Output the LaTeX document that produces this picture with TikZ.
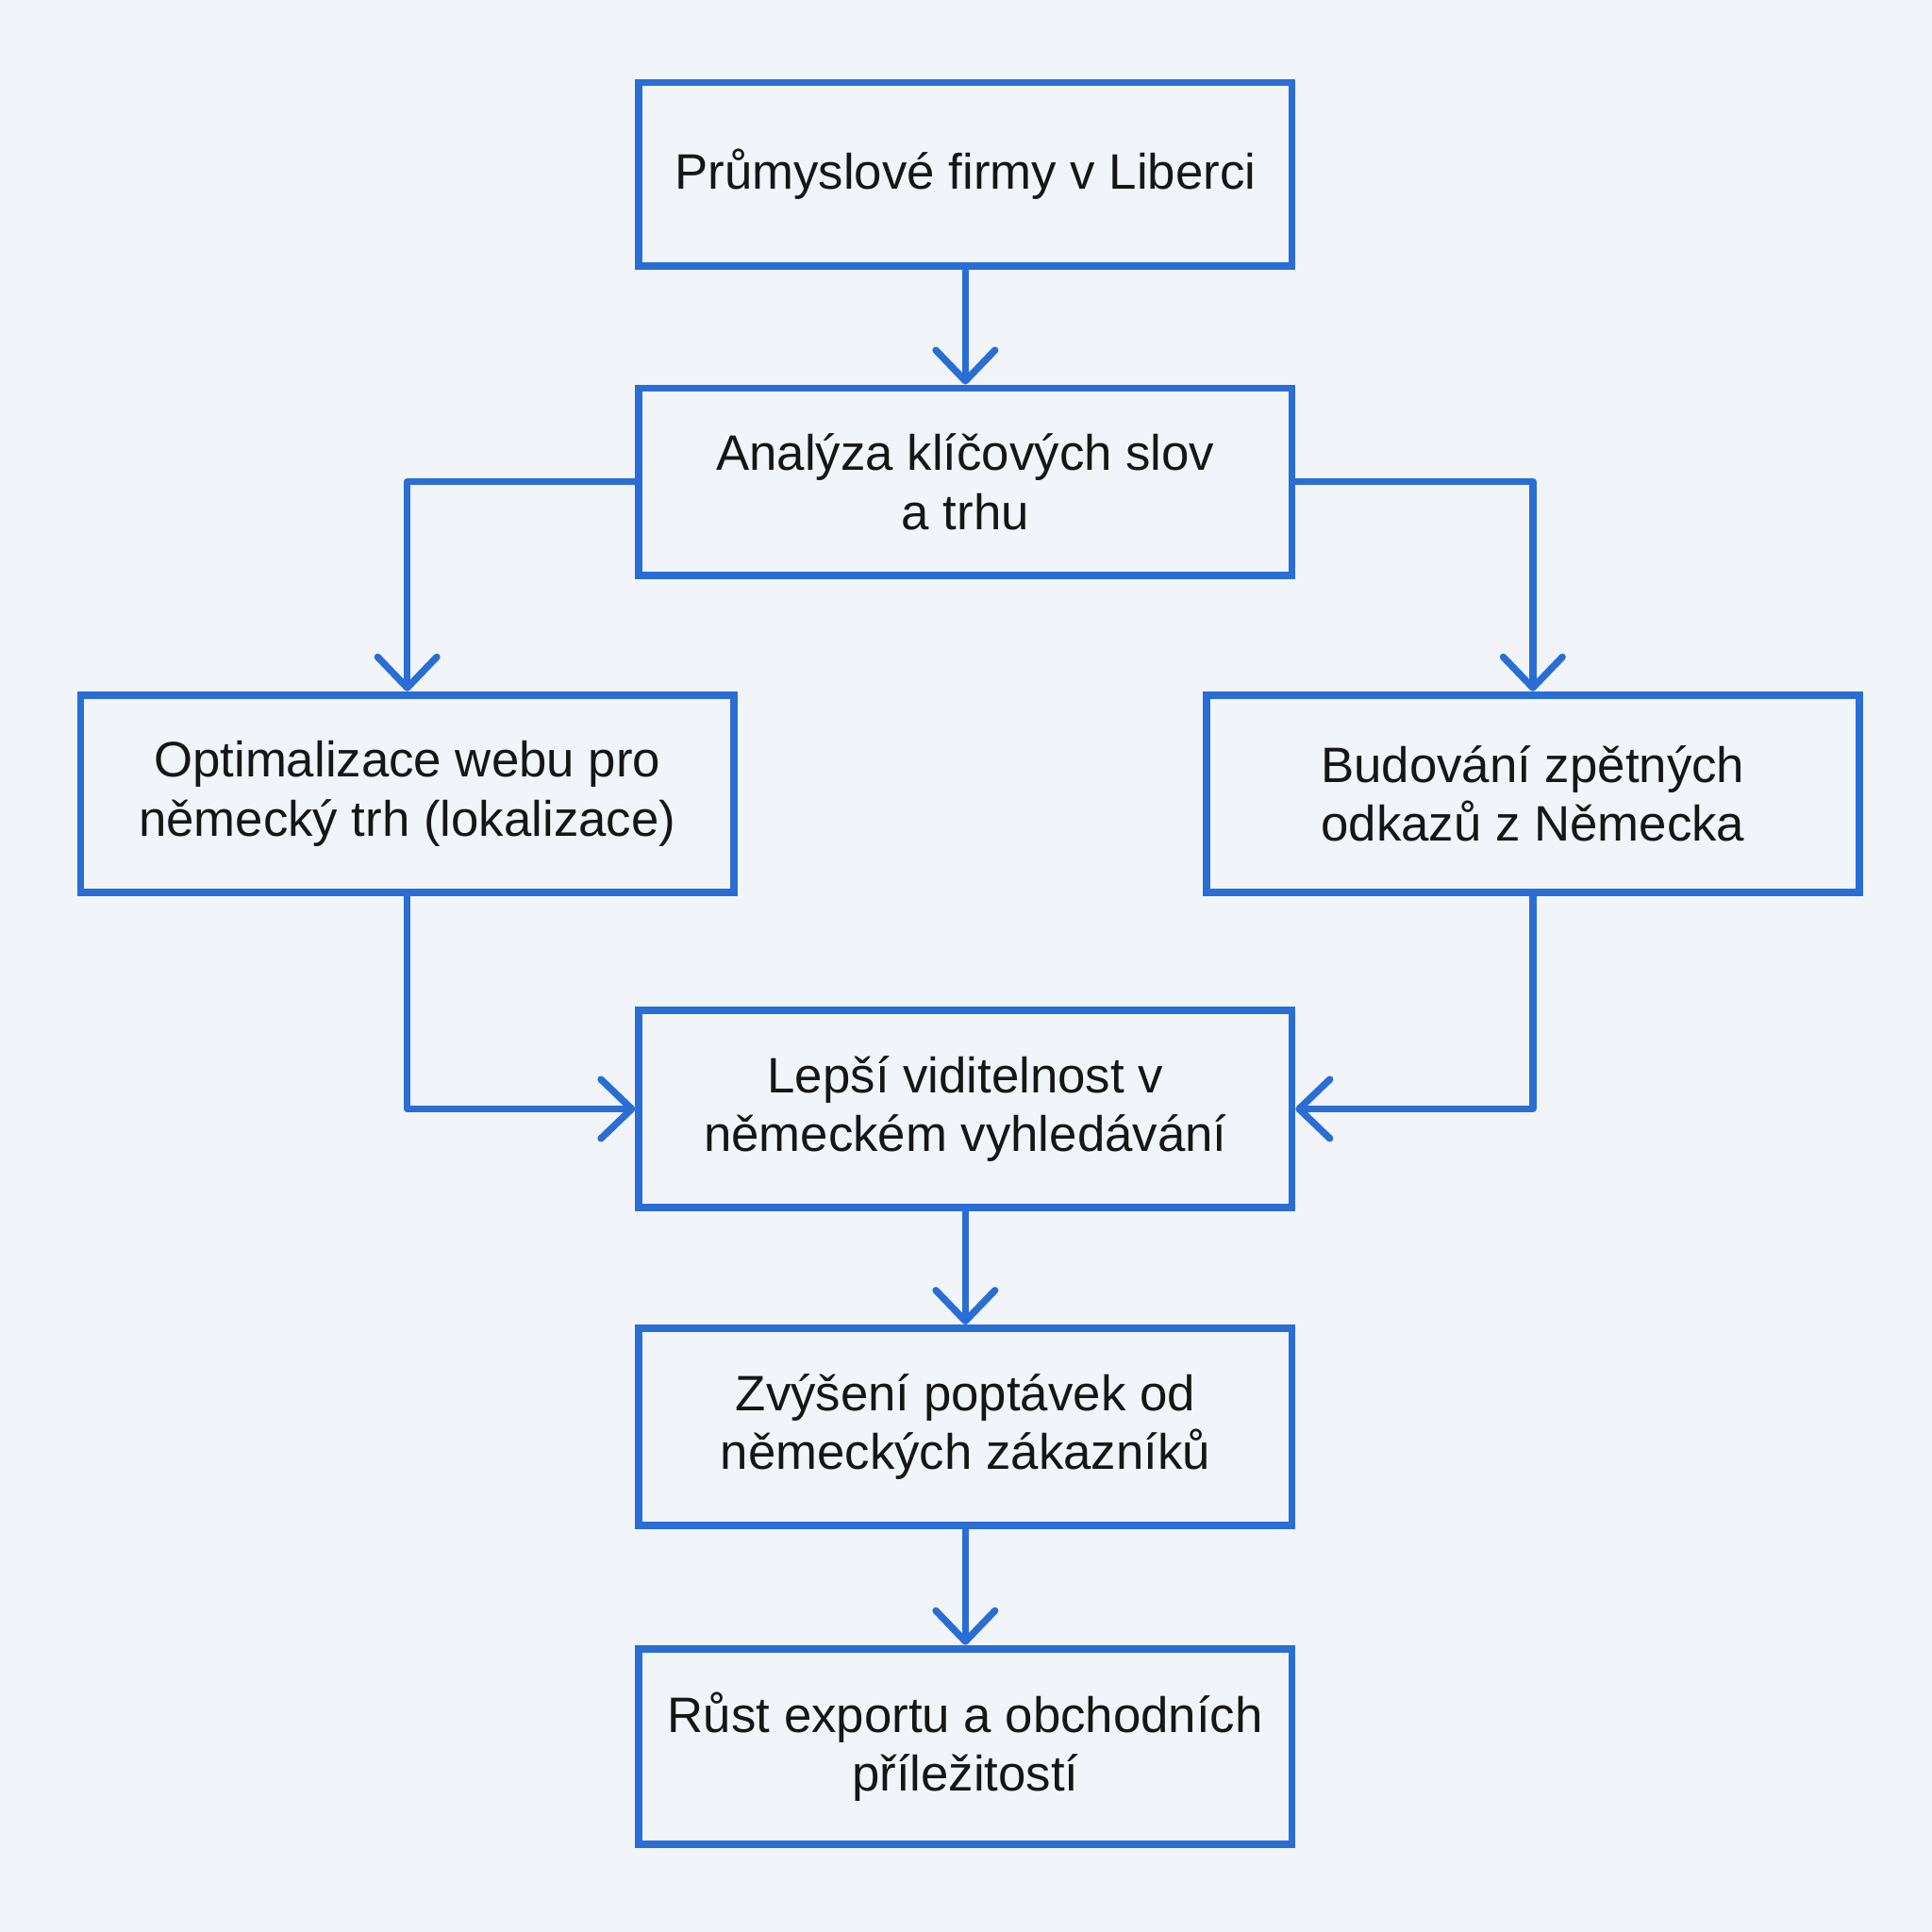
\documentclass[tikz,border=0pt]{standalone}
\usepackage{fontspec}
\setmainfont{Liberation Sans}
\usetikzlibrary{arrows.meta}
\definecolor{modra}{HTML}{2A6DD4}
\definecolor{pozadi}{HTML}{F1F5FA}
\definecolor{pismo}{HTML}{161616}
\tikzset{
  krok/.style={draw=modra, line width=1.7pt, minimum width=5.3cm, minimum height=1.55cm,
    align=center, text=pismo, inner sep=0pt, font=\fontsize{11.5}{13.6}\selectfont},
  sipka/.style={draw=modra, line width=1.6pt, line cap=round, line join=round,
    -{Straight Barb[length=2.5mm, width=4.8mm, line cap=round, line join=round]}}
}
\begin{document}
\begin{tikzpicture}[x=1cm, y=-1cm]
  % pozadi
  \fill[pozadi] (0,0) rectangle (15.68,15.68);
  \useasboundingbox (0,0) rectangle (15.68,15.68);
  % kroky
  \node[krok, minimum height=1.49cm] (firmy) at (7.835,1.415) {Průmyslové firmy v Liberci};
  \node[krok, minimum height=1.52cm] (analyza) at (7.835,3.91) {Analýza klíčových slov\\a trhu};
  \node[krok, minimum height=1.6cm] (web) at (3.305,6.44) {Optimalizace webu pro\\německý trh (lokalizace)};
  \node[krok, minimum height=1.6cm] (odkazy) at (12.44,6.44) {Budování zpětných\\odkazů z Německa};
  \node[krok, minimum height=1.6cm] (viditelnost) at (7.835,9.0) {Lepší viditelnost v\\německém vyhledávání};
  \node[krok, minimum height=1.6cm] (poptavky) at (7.835,11.58) {Zvýšení poptávek od\\německých zákazníků};
  \node[krok, minimum height=1.59cm] (export) at (7.835,14.175) {Růst exportu a obchodních\\příležitostí};
  % spojnice
  \draw[sipka] (firmy) -- (analyza);
  \draw[sipka] (analyza.west) -| (web.north);
  \draw[sipka] (analyza.east) -| (odkazy.north);
  \draw[sipka] (web.south) |- (viditelnost.west);
  \draw[sipka] (odkazy.south) |- (viditelnost.east);
  \draw[sipka] (viditelnost) -- (poptavky);
  \draw[sipka] (poptavky) -- (export);
\end{tikzpicture}
\end{document}
